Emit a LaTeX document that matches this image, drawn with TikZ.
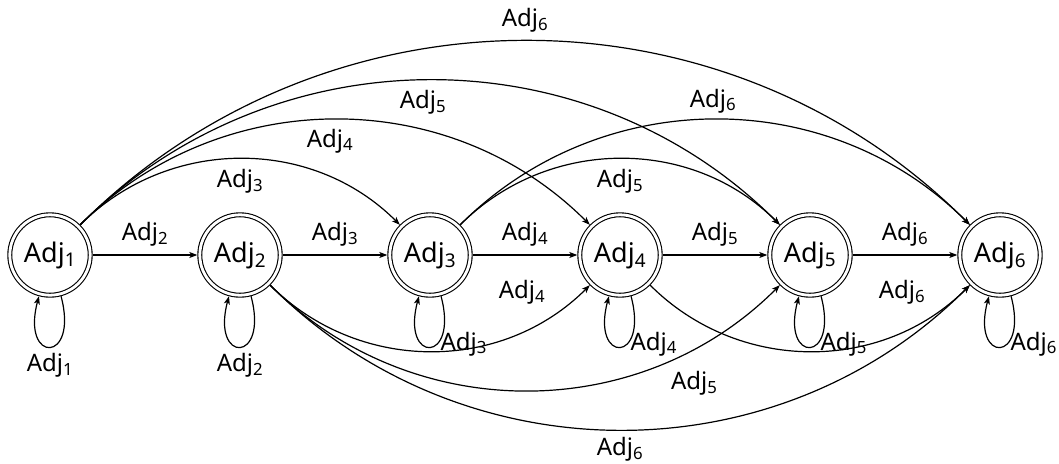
\documentclass[tikz,border=0pt]{standalone}
\usepackage{fontspec}
\setmainfont{Noto Sans}
\usetikzlibrary{arrows.meta}
\begin{document}
\begin{tikzpicture}[x=1pt,y=1pt,
  state/.style={circle, draw, double, line width=1.1pt, double distance=2.8pt,
    minimum size=80.4pt, inner sep=0pt, outer sep=2.5pt,
    font=\fontsize{27}{32}\selectfont},
  lbl/.style={font=\fontsize{24}{28}\selectfont, inner sep=1pt},
  arr/.style={-{Stealth[length=8pt,width=6pt,inset=2pt]}, line width=1.2pt},
  selfloop/.style={out=-75, in=-105, min distance=70pt},
  topbend/.style={out=45, in=135},
  botbend/.style={out=-45, in=-135},
]
\useasboundingbox (0,0) rectangle (1059,-463);

\node[state] (n1) at (50,-255)  {Adj\textsubscript{1}};
\node[state] (n2) at (240,-255) {Adj\textsubscript{2}};
\node[state] (n3) at (430,-255) {Adj\textsubscript{3}};
\node[state] (n4) at (620,-255) {Adj\textsubscript{4}};
\node[state] (n5) at (810,-255) {Adj\textsubscript{5}};
\node[state] (n6) at (1000,-255) {Adj\textsubscript{6}};

% straight edges
\draw[arr] (n1) -- node[lbl, above=7pt] {Adj\textsubscript{2}} (n2);
\draw[arr] (n2) -- node[lbl, above=7pt] {Adj\textsubscript{3}} (n3);
\draw[arr] (n3) -- node[lbl, above=7pt] {Adj\textsubscript{4}} (n4);
\draw[arr] (n4) -- node[lbl, above=7pt] {Adj\textsubscript{5}} (n5);
\draw[arr] (n5) -- node[lbl, above=7pt] {Adj\textsubscript{6}} (n6);

% upper arcs
\draw[arr] (n1) to[topbend] node[lbl, below=9pt] {Adj\textsubscript{3}} (n3);
\draw[arr] (n1) to[topbend] node[lbl, below=8pt, xshift=-5pt] {Adj\textsubscript{4}} (n4);
\draw[arr] (n1) to[topbend] node[lbl, below=9pt, xshift=-7pt] {Adj\textsubscript{5}} (n5);
\draw[arr] (n1) to[topbend] node[lbl, above=7pt] {Adj\textsubscript{6}} (n6);
\draw[arr] (n3) to[topbend] node[lbl, below=9pt] {Adj\textsubscript{5}} (n5);
\draw[arr] (n3) to[topbend] node[lbl, above=5pt, xshift=-2pt] {Adj\textsubscript{6}} (n6);

% lower arcs
\draw[arr] (n2) to[botbend] node[lbl, pos=0.85, anchor=south east, yshift=13pt] {Adj\textsubscript{4}} (n4);
\draw[arr] (n4) to[botbend] node[lbl, pos=0.85, anchor=south east, yshift=13pt] {Adj\textsubscript{6}} (n6);
\draw[arr] (n2) to[botbend] node[lbl, pos=0.8, anchor=north, xshift=8pt, yshift=-17pt] {Adj\textsubscript{5}} (n5);
\draw[arr] (n2) to[botbend] node[lbl, below=6pt] {Adj\textsubscript{6}} (n6);

% self loops
\draw[arr] (n1) to[selfloop] node[lbl, below=5pt] {Adj\textsubscript{1}} (n1);
\draw[arr] (n2) to[selfloop] node[lbl, below=5pt] {Adj\textsubscript{2}} (n2);
\draw[arr] (n3) to[selfloop] node[lbl, anchor=west, xshift=9pt, yshift=3pt] {Adj\textsubscript{3}} (n3);
\draw[arr] (n4) to[selfloop] node[lbl, anchor=west, xshift=9pt, yshift=3pt] {Adj\textsubscript{4}} (n4);
\draw[arr] (n5) to[selfloop] node[lbl, anchor=west, xshift=9pt, yshift=3pt] {Adj\textsubscript{5}} (n5);
\draw[arr] (n6) to[selfloop] node[lbl, anchor=west, xshift=9pt, yshift=3pt] {Adj\textsubscript{6}} (n6);
\end{tikzpicture}
\end{document}
